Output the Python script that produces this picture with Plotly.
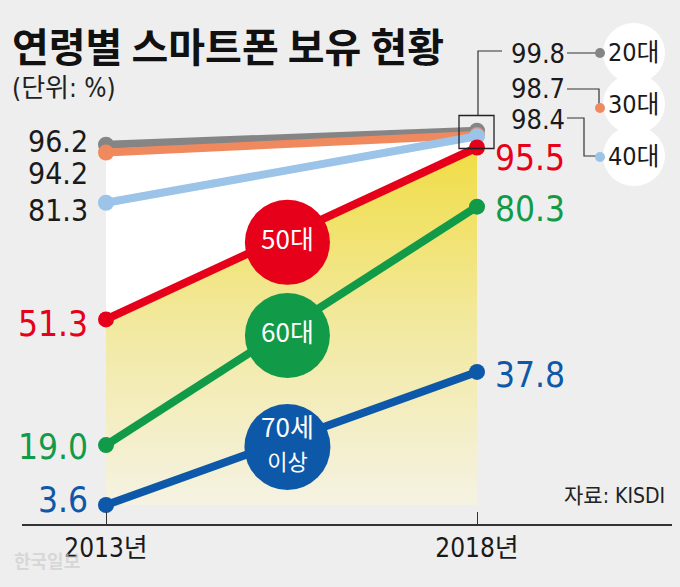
import plotly.graph_objects as go

# 데이터
years = [2013, 2018]
year_labels = ["2013년", "2018년"]
groups = ["20대", "30대", "40대", "50대", "60대", "70세 이상"]
v20 = [96.2, 99.8]
v30 = [94.2, 98.7]
v40 = [81.3, 98.4]
v50 = [51.3, 95.5]
v60 = [19.0, 80.3]
v70 = [3.6, 37.8]
series = [v20, v30, v40, v50, v60, v70]

colors = ["#858585", "#f08a5e", "#9cc3e8", "#e60019", "#119a48", "#0d58a8"]
label_colors = ["#1a1a1a", "#1a1a1a", "#1a1a1a", "#e60019", "#119a48", "#0d58a8"]

NUM_FONT = "'DejaVu Sans Condensed', 'Noto Sans CJK KR', sans-serif"
KR_FONT = "'Noto Sans CJK KR', sans-serif"

# 화면 배치 (픽셀)
W, H = 680, 587
X_PX = (106, 477)          # 2013, 2018 위치
Y0_PX, Y_SCALE = 519, 3.89 # 값 0 의 위치, 1%당 픽셀
AX_L, AX_R, AX_Y = 22, 672, 524

k = (X_PX[1] - X_PX[0]) / (years[1] - years[0])
x_range = [years[0] - (X_PX[0] - AX_L) / k, years[0] - (X_PX[0] - AX_L) / k + (AX_R - AX_L) / k]
y_range = [-(AX_Y - Y0_PX) / Y_SCALE, Y0_PX / Y_SCALE]


def px(x):
    return x / W


def py(y):
    return 1 - y / H


def fx(year):
    return X_PX[0] + (year - years[0]) * k


def fy(v):
    return Y0_PX - v * Y_SCALE


fig = go.Figure()

# 배경 영역: 아래쪽 기준선 -> 50대 선(노란 그라데이션) -> 20대 선(흰색)
base = min(min(s) for s in series)
fig.add_trace(go.Scatter(x=years, y=[base, base], mode="lines", line=dict(width=0),
                         showlegend=False, hoverinfo="skip"))
fig.add_trace(go.Scatter(
    x=years, y=v50, mode="lines", line=dict(width=0), fill="tonexty",
    fillgradient=dict(type="vertical", start=base, stop=max(v50),
                      colorscale=[[0, "#f5f2e3"], [0.5, "#f2e9a0"], [1, "#f0dd44"]]),
    showlegend=False, hoverinfo="skip"))
fig.add_trace(go.Scatter(x=years, y=v20, mode="lines", line=dict(width=0), fill="tonexty",
                         fillcolor="white", showlegend=False, hoverinfo="skip"))

# 선
for name, vals, c in zip(groups, series, colors):
    fig.add_trace(go.Scatter(
        x=years, y=vals, mode="lines+markers", name=name,
        line=dict(color=c, width=8),
        marker=dict(color=c, size=16),
        showlegend=False, hoverinfo="skip"))

# 선 위 원형 라벨 (50대, 60대, 70세 이상)
frac = 0.489
drop = 7 / Y_SCALE
circle_text = ["50대", "60대", "70세<br><span style='font-size:22px'>이상</span>"]
for txt, vals, c, size in zip(circle_text, series[3:], colors[3:], [85, 85, 86]):
    fig.add_trace(go.Scatter(
        x=[years[0] + frac * (years[1] - years[0])],
        y=[vals[0] + frac * (vals[1] - vals[0]) - drop],
        mode="markers+text", text=[txt], textposition="middle center",
        textfont=dict(family=KR_FONT, size=26, color="white"),
        marker=dict(color=c, size=size),
        showlegend=False, hoverinfo="skip"))

shapes = []
annotations = []

# 2013 왼쪽 값
left_shift = [3, -21, -8, -5, -2, 5]
left_size = [30, 30, 30, 35, 35, 35]
for vals, lc, ys, fs in zip(series, label_colors, left_shift, left_size):
    annotations.append(dict(x=years[0], y=vals[0], xref="x", yref="y", text=f"{vals[0]:.1f}",
                            xanchor="right", yanchor="middle", xshift=-16, yshift=ys,
                            showarrow=False, font=dict(family=NUM_FONT, size=fs, color=lc)))

# 2018 오른쪽 값 (50대 이하)
right_shift = [-10, -2, -3]
for vals, lc, ys in zip(series[3:], label_colors[3:], right_shift):
    annotations.append(dict(x=years[1], y=vals[1], xref="x", yref="y", text=f"{vals[1]:.1f}",
                            xanchor="left", yanchor="middle", xshift=16, yshift=ys,
                            showarrow=False, font=dict(family=NUM_FONT, size=35, color=lc)))

# 2018 상위 3개 묶음 상자 + 지시선
bx, by = fx(years[1]), fy((v20[1] + v40[1]) / 2) - 1
shapes.append(dict(type="rect", xref="paper", yref="paper",
                   x0=px(bx - 18), x1=px(bx + 17), y0=py(by - 17), y1=py(by + 16),
                   line=dict(color="#222", width=1.3)))
line_style = dict(color="#333", width=1.2)
callouts = [
    [(bx + 1, by - 17), (bx + 1, 51), (502, 51)],
    [(567, 53), (600, 53)],
    [(567, 89), (599, 89), (599, 106)],
    [(567, 118), (584, 118), (584, 156), (598, 156)],
]
for pts in callouts:
    path = "M " + " L ".join(f"{px(x):.5f},{py(y):.5f}" for x, y in pts)
    shapes.append(dict(type="path", xref="paper", yref="paper", path=path, line=line_style))

top_y = [54, 88, 119]
legend_y = [53, 104, 156]
dot_y = [53, 108, 157]
for i in range(3):
    annotations.append(dict(x=px(567), y=py(top_y[i]), xref="paper", yref="paper",
                            text=f"{series[i][1]:.1f}", xanchor="right", yanchor="middle",
                            showarrow=False, font=dict(family=NUM_FONT, size=27, color="#1a1a1a")))
    shapes.append(dict(type="circle", xref="paper", yref="paper", xsizemode="pixel", ysizemode="pixel",
                       xanchor=px(634), yanchor=py(legend_y[i]), x0=-31, x1=31, y0=-30, y1=30,
                       fillcolor="white", line=dict(width=0), layer="below"))
for i in range(3):
    shapes.append(dict(type="circle", xref="paper", yref="paper", xsizemode="pixel", ysizemode="pixel",
                       xanchor=px(600), yanchor=py(dot_y[i]), x0=-5, x1=5, y0=-5, y1=5,
                       fillcolor=colors[i], line=dict(width=0)))
    annotations.append(dict(x=px(606), y=py(legend_y[i]), xref="paper", yref="paper",
                            text=groups[i], xanchor="left", yanchor="middle", showarrow=False,
                            font=dict(family=NUM_FONT, size=25, color="#1a1a1a")))

# 제목, 단위, 출처
annotations.append(dict(x=px(10), y=py(45), xref="paper", yref="paper", text="<b>연령별 스마트폰 보유 현황</b>",
                        xanchor="left", yanchor="middle", showarrow=False,
                        font=dict(family=KR_FONT, size=40, color="#111")))
annotations.append(dict(x=px(10), y=py(88), xref="paper", yref="paper", text="(단위: %)",
                        xanchor="left", yanchor="middle", showarrow=False,
                        font=dict(family=NUM_FONT, size=26, color="#222")))
annotations.append(dict(x=px(667), y=py(496), xref="paper", yref="paper", text="자료: KISDI",
                        xanchor="right", yanchor="middle", showarrow=False,
                        font=dict(family=NUM_FONT, size=21, color="#222")))
annotations.append(dict(x=px(12), y=py(560), xref="paper", yref="paper", text="<b>한국일보</b>",
                        xanchor="left", yanchor="middle", showarrow=False,
                        font=dict(family=KR_FONT, size=18, color="rgba(205,205,205,0.7)")))

fig.update_layout(
    width=W, height=H, autosize=False,
    margin=dict(l=0, r=0, t=0, b=0),
    paper_bgcolor="#eeeeee", plot_bgcolor="rgba(0,0,0,0)",
    showlegend=False,
    shapes=shapes, annotations=annotations,
    xaxis=dict(domain=[px(AX_L), px(AX_R)], range=x_range, tickvals=years, ticktext=year_labels,
               showline=True, linecolor="#333", linewidth=1.5, ticks="inside", ticklen=12,
               tickcolor="#333", tickwidth=1.2, showgrid=False, zeroline=False,
               tickfont=dict(family=NUM_FONT, size=26, color="#1a1a1a"), fixedrange=True),
    yaxis=dict(domain=[py(AX_Y), 1], range=y_range, visible=False, fixedrange=True),
)

fig.write_html("out.html", config={"displayModeBar": False},
               post_script="document.body.style.margin='0';document.body.style.overflow='hidden';")
